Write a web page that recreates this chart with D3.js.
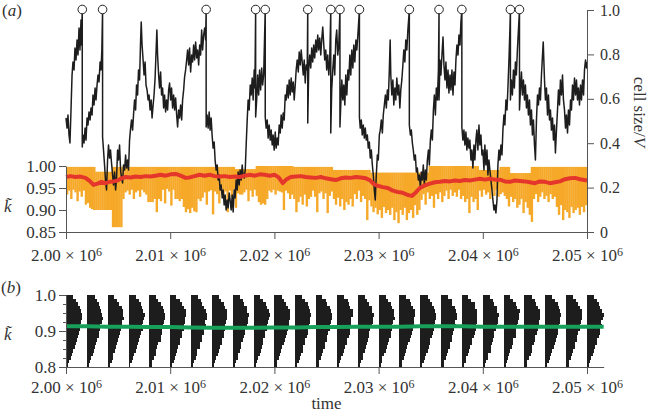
<!DOCTYPE html>
<html><head><meta charset="utf-8">
<script src="https://cdn.jsdelivr.net/npm/d3@7"></script>
<style>
body{margin:0;background:#fff}
svg text{font-family:"Liberation Serif","DejaVu Serif",serif}
</style></head><body>
<svg id="c" width="650" height="415"></svg>
<script>
// ---------- DATA (time offsets are in thousands, added to 2.00 x 10^6) ----------
const timeOrigin = 2.00e6;
const xTicks = [2.00e6, 2.01e6, 2.02e6, 2.03e6, 2.04e6, 2.05e6];
const xTickLabels = ["2.00", "2.01", "2.02", "2.03", "2.04", "2.05"];
const kTicksA = [0.85, 0.90, 0.95, 1.00];
const kTickLabelsA = ["0.85", "0.90", "0.95", "1.00"];
const sizeTicks = [0, 0.2, 0.4, 0.6, 0.8, 1.0];
const sizeTickLabels = ["0", "0.2", "0.4", "0.6", "0.8", "1.0"];
const kTicksB = [0.8, 0.9, 1.0];
const kTickLabelsB = ["0.8", "0.9", "1.0"];
const kMinorTicksB = [0.825, 0.85, 0.875, 0.925, 0.95, 0.975];

// division events (cell size reaches 1)
const divisionTimes = [1.56, 3.51, 13.45, 18.20, 19.12, 23.20, 25.41, 26.29, 28.16, 32.95, 35.80, 37.99, 42.65, 43.52];

// cell size / V  [time offset, size]
const cellSize = [
[0.00,.514],[0.10,.468],[0.19,.527],[0.29,.437],[0.38,.401],[0.48,.550],[0.58,.707],[0.67,.766],[0.77,.730],[0.86,.829],[0.96,.775],[1.06,.865],[1.15,.797],[1.25,.919],[1.34,.820],[1.44,.955],[1.49,.842],[1.56,1.0],[1.56,.383],
[1.63,.437],[1.73,.401],[1.83,.468],[1.92,.414],[2.02,.514],[2.11,.482],[2.21,.541],[2.31,.505],[2.40,.559],[2.50,.527],[2.59,.617],[2.69,.572],[2.79,.649],[2.88,.595],[2.98,.662],[3.07,.707],[3.17,.676],[3.27,.766],[3.36,.730],[3.44,.820],[3.51,1.0],[3.51,.428],
[3.60,.369],[3.70,.302],[3.79,.234],[3.89,.189],[3.99,.324],[4.08,.392],[4.18,.333],[4.27,.369],[4.37,.311],[4.47,.257],[4.56,.212],[4.66,.270],[4.76,.189],[4.85,.243],[4.95,.369],[5.04,.324],[5.14,.392],[5.24,.279],[5.33,.243],[5.43,.221],[5.52,.302],[5.62,.279],[5.72,.347],[5.81,.288],[5.91,.324],[6.00,.279],[6.10,.414],[6.20,.468],[6.29,.505],[6.39,.459],[6.48,.527],[6.58,.595],[6.68,.550],[6.77,.662],[6.87,.617],[6.96,.730],[7.06,.685],[7.16,.865],[7.22,.946],[7.30,.842],[7.40,.775],[7.49,.707],[7.59,.766],[7.68,.662],[7.78,.640],[7.88,.595],[7.97,.617],[8.07,.550],[8.17,.595],[8.26,.514],[8.36,.572],[8.45,.617],[8.55,.694],[8.65,.820],[8.72,.910],[8.79,.797],[8.89,.707],[8.98,.649],[9.08,.721],[9.17,.617],[9.27,.649],[9.37,.559],[9.46,.617],[9.56,.541],[9.65,.595],[9.75,.550],[9.85,.640],[9.94,.671],[10.04,.595],[10.13,.649],[10.23,.559],[10.33,.617],[10.42,.550],[10.52,.604],[10.62,.527],[10.71,.473],[10.81,.550],[10.90,.514],[11.00,.572],[11.10,.505],[11.19,.595],[11.29,.640],[11.38,.698],[11.48,.730],[11.58,.775],[11.67,.820],[11.77,.752],[11.86,.829],[11.96,.721],[12.06,.797],[12.15,.766],[12.25,.842],[12.34,.775],[12.44,.856],[12.54,.784],[12.63,.820],[12.73,.752],[12.83,.842],[12.92,.797],[13.02,.910],[13.11,.820],[13.21,.887],[13.31,.919],[13.40,.865],[13.45,1.0],[13.45,.473],
[13.54,.527],[13.64,.468],[13.74,.541],[13.83,.459],[13.93,.514],[14.02,.437],[14.12,.378],[14.22,.405],[14.31,.324],[14.41,.279],[14.51,.302],[14.60,.234],[14.70,.257],[14.79,.189],[14.89,.212],[14.99,.153],[15.08,.189],[15.18,.122],[15.27,.167],[15.37,.099],[15.47,.144],[15.56,.108],[15.66,.176],[15.75,.144],[15.85,.099],[15.95,.167],[16.04,.090],[16.14,.189],[16.23,.153],[16.33,.234],[16.43,.189],[16.52,.270],[16.62,.212],[16.71,.279],[16.81,.234],[16.91,.302],[17.00,.257],[17.10,.243],[17.20,.279],[17.29,.392],[17.39,.505],[17.48,.595],[17.58,.550],[17.68,.662],[17.77,.617],[17.87,.694],[17.96,.595],[18.06,.730],[18.13,.649],[18.20,1.0],[18.20,.518],
[18.30,.595],[18.39,.707],[18.49,.617],[18.58,.730],[18.68,.640],[18.78,.739],[18.87,.662],[18.97,.707],[19.12,1.0],[19.12,.518],
[19.21,.468],[19.31,.505],[19.40,.423],[19.50,.482],[19.60,.414],[19.69,.459],[19.79,.392],[19.88,.437],[19.98,.369],[20.08,.450],[20.17,.378],[20.27,.423],[20.36,.392],[20.46,.482],[20.56,.446],[20.65,.527],[20.75,.468],[20.84,.536],[20.94,.505],[21.04,.617],[21.13,.595],[21.23,.662],[21.33,.604],[21.42,.685],[21.52,.617],[21.61,.694],[21.71,.631],[21.81,.676],[21.90,.595],[22.00,.662],[22.09,.730],[22.19,.775],[22.29,.721],[22.38,.811],[22.48,.752],[22.57,.820],[22.67,.766],[22.77,.707],[22.86,.775],[22.96,.671],[23.05,.752],[23.15,.730],[23.20,1.0],[23.20,.491],[23.29,.730],[23.39,.797],[23.49,.739],[23.58,.829],[23.68,.766],[23.77,.842],[23.87,.784],[23.97,.865],[24.06,.811],[24.16,.887],[24.25,.820],[24.35,.874],[24.45,.797],[24.54,.865],[24.64,.923],[24.74,.842],[24.83,.775],[24.93,.820],[25.02,.730],[25.12,.797],[25.22,.707],[25.31,.775],[25.41,1.0],[25.41,.446],[25.50,.640],[25.60,.730],[25.70,.797],[25.79,.707],[25.89,.865],[25.98,.910],[26.08,.797],[26.18,.842],[26.29,1.0],[26.29,.473],[26.37,.572],[26.47,.685],[26.57,.595],[26.66,.662],[26.76,.572],[26.85,.707],[26.95,.617],[27.05,.730],[27.14,.685],[27.24,.797],[27.33,.707],[27.43,.820],[27.53,.739],[27.62,.842],[27.72,.766],[27.82,.865],[27.91,.820],[28.01,.887],[28.16,1.0],[28.16,.518],
[28.24,.468],[28.34,.505],[28.43,.437],[28.53,.482],[28.63,.423],[28.72,.468],[28.82,.414],[28.92,.437],[29.01,.378],[29.11,.405],[29.20,.333],[29.30,.369],[29.40,.302],[29.49,.257],[29.59,.189],[29.68,.144],[29.78,.257],[29.88,.347],[29.97,.324],[30.07,.437],[30.16,.459],[30.26,.505],[30.36,.446],[30.45,.527],[30.55,.572],[30.65,.617],[30.74,.559],[30.84,.640],[30.93,.595],[31.03,.730],[31.11,.865],[31.17,.707],[31.27,.617],[31.37,.685],[31.46,.572],[31.56,.649],[31.65,.595],[31.75,.694],[31.85,.617],[31.94,.662],[32.04,.559],[32.13,.640],[32.23,.685],[32.33,.752],[32.42,.820],[32.52,.766],[32.61,.865],[32.71,.820],[32.81,.910],[32.95,1.0],[32.95,.482],
[33.05,.437],[33.14,.459],[33.24,.401],[33.33,.369],[33.43,.324],[33.53,.347],[33.62,.270],[33.72,.288],[33.81,.234],[33.91,.257],[34.01,.198],[34.10,.270],[34.20,.234],[34.29,.302],[34.39,.212],[34.49,.279],[34.58,.234],[34.68,.324],[34.78,.369],[34.87,.302],[34.97,.414],[35.06,.459],[35.16,.414],[35.26,.550],[35.35,.617],[35.45,.527],[35.54,.649],[35.64,.595],[35.74,.730],[35.80,1.0],[35.80,.595],[35.89,.775],[35.98,.707],[36.08,.797],[36.18,.878],[36.27,.752],[36.37,.685],[36.46,.766],[36.56,.649],[36.66,.730],[36.75,.626],[36.85,.707],[36.94,.640],[37.04,.730],[37.14,.617],[37.23,.721],[37.33,.662],[37.42,.775],[37.52,.842],[37.62,.797],[37.71,.887],[37.81,.842],[37.90,.946],[37.99,1.0],[37.99,.473],
[38.09,.414],[38.19,.459],[38.28,.392],[38.38,.450],[38.47,.369],[38.57,.423],[38.67,.378],[38.76,.414],[38.86,.324],[38.95,.369],[39.05,.288],[39.15,.392],[39.24,.324],[39.34,.414],[39.43,.459],[39.53,.369],[39.63,.482],[39.72,.392],[39.82,.437],[39.92,.347],[40.01,.369],[40.11,.279],[40.20,.392],[40.30,.302],[40.40,.369],[40.49,.257],[40.59,.324],[40.68,.279],[40.78,.234],[40.88,.189],[40.97,.144],[41.07,.099],[41.16,.122],[41.26,.086],[41.36,.144],[41.45,.302],[41.55,.369],[41.64,.324],[41.74,.392],[41.84,.347],[41.93,.459],[42.03,.527],[42.12,.482],[42.22,.595],[42.32,.550],[42.41,.649],[42.51,.775],[42.60,.910],[42.65,1.0],[42.65,.595],[42.74,.685],[42.84,.617],[42.94,.730],[43.03,.649],[43.13,.766],[43.22,.707],[43.32,.820],[43.42,.910],[43.52,1.0],[43.52,.550],[43.61,.640],[43.71,.721],[43.80,.617],[43.90,.685],[44.00,.595],[44.09,.662],[44.19,.559],[44.28,.617],[44.38,.527],[44.48,.595],[44.57,.482],[44.67,.550],[44.76,.437],[44.86,.505],[44.96,.392],[45.05,.324],[45.15,.505],[45.25,.617],[45.34,.572],[45.44,.649],[45.53,.595],[45.63,.707],[45.73,.797],[45.80,.856],[45.92,.685],[46.01,.595],[46.11,.649],[46.21,.527],[46.30,.617],[46.40,.505],[46.49,.550],[46.59,.459],[46.69,.514],[46.78,.414],[46.88,.482],[46.97,.356],[47.07,.459],[47.17,.550],[47.26,.640],[47.36,.572],[47.45,.685],[47.55,.617],[47.65,.707],[47.74,.595],[47.84,.550],[47.94,.468],[48.03,.527],[48.13,.446],[48.22,.550],[48.32,.482],[48.42,.595],[48.51,.550],[48.61,.662],[48.70,.595],[48.80,.694],[48.90,.617],[48.99,.685],[49.09,.595],[49.18,.649],[49.28,.572],[49.38,.662],[49.47,.595],[49.57,.685],[49.67,.617],[49.76,.730],[49.86,.775],[49.95,.739],[50.00,.766]
];

// mean k (red) [time offset, k]
const kMeanA = [
[0.00,.975],[0.43,.977],[0.91,.975],[1.39,.976],[1.87,.973],[2.26,.966],[2.64,.957],[3.03,.960],[3.41,.964],[3.79,.961],[4.18,.964],[4.56,.965],[4.95,.967],[5.33,.972],[5.72,.975],[6.20,.974],[6.68,.976],[7.16,.975],[7.64,.977],[8.12,.976],[8.60,.978],[9.08,.980],[9.56,.978],[10.04,.981],[10.52,.982],[11.00,.978],[11.48,.973],[11.87,.974],[12.34,.977],[12.82,.980],[13.30,.978],[13.79,.980],[14.27,.977],[14.75,.976],[15.23,.977],[15.71,.975],[16.19,.976],[16.67,.975],[17.15,.978],[17.63,.980],[18.11,.978],[18.59,.981],[19.07,.980],[19.55,.978],[20.03,.980],[20.41,.974],[20.80,.961],[21.18,.970],[21.57,.975],[22.05,.976],[22.53,.977],[23.01,.975],[23.49,.974],[23.97,.973],[24.45,.975],[24.93,.972],[25.41,.970],[25.89,.968],[26.37,.972],[26.85,.974],[27.33,.973],[27.81,.975],[28.29,.974],[28.77,.972],[29.15,.968],[29.54,.959],[29.92,.955],[30.40,.952],[30.88,.950],[31.36,.944],[31.84,.941],[32.32,.939],[32.80,.934],[33.19,.932],[33.57,.940],[33.96,.950],[34.44,.956],[34.92,.960],[35.40,.963],[35.88,.964],[36.36,.966],[36.84,.965],[37.32,.967],[37.80,.966],[38.28,.968],[38.76,.967],[39.24,.969],[39.72,.971],[40.20,.969],[40.68,.971],[41.16,.969],[41.64,.969],[42.12,.965],[42.60,.964],[43.08,.967],[43.56,.966],[44.04,.965],[44.52,.963],[45.00,.961],[45.48,.965],[45.96,.964],[46.44,.961],[46.93,.963],[47.41,.965],[47.89,.970],[48.37,.972],[48.85,.973],[49.33,.970],[50.00,.967]
];

// k range of the population (orange): lower edge sampled every 0.2 thousand time units
const kSampleStep = 0.2;
const kLow = [
.935,.944,.925,.946,.940,.920,.942,.930,.944,.912,.916,.905,
.902,.900,.900,.900,.900,.900,.900,.900,.900,.900,
.861,.861,.861,.861,.861,
.925,.940,.944,.935,.946,.925,.940,.944,.930,.946,.940,.935,.918,.918,.918,.925,.895,.925,.920,
.946,.915,.948,.942,.910,.946,.925,.925,.920,.925,
.907,.895,.902,.893,.905,.897,.895,
.925,.920,.928,
.940,.912,.942,.945,.890,.942,.936,.915,.946,.935,.942,.895,.944,.930,.946,.905,.938,.935,
.935,.940,.946,.920,.944,.930,.946,.932,.918,.912,.915,.912,.925,
.944,.940,.946,.935,.944,.942,.940,.900,.944,.938,.925,.935,
.925,.895,.918,.930,.912,.935,.908,.925,.930,
.944,.930,.895,.938,.942,.925,.938,.893,.932,.942,.925,
.912,.928,.908,.925,.900,.918,.912,.925,.908,
.936,.925,.944,.918,.932,.925,.877,.922,
.908,.895,.905,.890,.900,.882,.907,.893,.900,
.889,.905,.877,.895,.870,.900,.889,.905,.877,.893,.900,.882,.911,.889,.900,.923,
.936,.912,.940,.925,.932,.905,.936,.925,.940,.918,.932,
.944,.925,.946,.932,.940,.930,.946,.925,
.932,.918,.925,.893,.930,.918,.925,.900,
.944,.930,.946,.935,.940,.925,.944,.932,.946,.930,.936,.940,.932,
.925,.908,.930,.918,.925,.905,.912,.925,.893,.918,.905,.889,.873,
.925,.936,.918,.930,.940,.925,.932,.918,.936,.925,.930,
.907,.889,.911,.877,.900,.895,.882,.907,.893,.900,.905,.889,.907,.895,.911,.877
];
// upper edge of the orange band: [from, to, k]
const kHighRuns = [[0,2.8,.998],[2.8,4.4,.987],[4.4,16.2,.998],[16.2,18.2,.993],[18.2,21.8,1.0],[21.8,25.6,.998],[25.6,29.2,.991],[29.2,34.8,.985],[34.8,39.6,1.0],[39.6,41.6,.991],[41.6,42.6,.998],[42.6,44.6,.984],[44.6,50.2,.998]];

// panel (b): histograms of k at every 2 thousand time units
const histTimes = [0,2,4,6,8,10,12,14,16,18,20,22,24,26,28,30,32,34,36,38,40,42,44,46,48,50];
const histBinTops = [1.00,.99,.98,.97,.96,.95,.94,.93,.92,.91,.90,.89,.88,.87,.86,.85,.84,.83,.82,.81];
const histBinWidth = 0.01;
const histCounts = [
[14,20,24,28,31,33,32,30,29,28,26,24,22,20,18,15,12,10,7,5],
[16,21,25,27,30,32,33,31,28,27,25,25,21,19,17,14,13,9,6,4],
[13,19,23,29,32,31,33,29,30,27,26,23,22,19,18,16,11,10,8,5],
[15,22,26,27,30,34,31,30,28,29,25,24,21,20,17,15,12,9,7,4],
[14,18,24,29,31,32,32,31,29,26,27,23,23,18,16,14,13,10,6,5],
[12,20,25,28,33,32,30,30,28,28,24,25,20,21,17,15,11,9,7,4],
[15,21,23,27,30,33,33,29,30,27,26,22,22,19,18,13,12,10,6,5],
[14,19,26,28,32,31,32,30,27,28,25,24,21,20,16,15,12,8,7,4],
[16,22,24,29,30,33,31,31,29,26,26,23,22,18,17,14,11,10,6,5],
[13,20,25,27,31,34,32,29,28,28,24,24,20,20,18,15,13,9,7,4],
[15,19,24,28,32,32,33,30,30,27,25,23,22,19,16,14,12,10,6,5],
[14,21,26,29,30,33,31,31,28,26,27,24,21,20,17,16,11,9,8,4],
[12,20,23,28,31,32,32,30,29,28,25,22,22,18,18,14,12,10,6,5],
[15,22,25,27,33,33,30,29,28,27,26,24,20,21,16,15,13,9,7,4],
[14,19,24,29,30,34,32,31,30,26,24,23,22,19,17,14,11,10,6,5],
[16,20,26,28,31,32,33,29,28,28,26,25,21,20,18,15,12,8,7,4],
[13,21,24,27,32,33,31,30,29,27,25,23,22,18,16,14,12,10,6,5],
[15,20,25,29,30,32,32,31,28,28,26,24,20,20,17,15,11,9,7,4],
[14,22,23,28,31,33,33,29,30,26,25,22,22,19,18,14,13,10,6,5],
[12,19,26,27,32,31,32,30,28,28,27,24,21,21,16,15,12,9,8,4],
[15,21,24,29,30,34,31,31,29,27,24,23,22,18,17,16,11,10,6,5],
[14,20,25,28,33,32,32,30,28,26,26,25,20,20,18,14,12,8,7,4],
[16,22,23,27,31,33,33,29,30,28,25,22,22,19,16,15,13,10,6,5],
[13,19,26,29,30,32,31,31,28,27,27,24,21,20,17,14,11,9,7,4],
[15,21,24,28,32,33,32,30,29,28,24,23,22,18,18,15,12,10,6,5],
[14,20,25,27,31,34,33,29,30,26,26,24,20,21,16,14,12,9,7,5]
];
// mean k (green) [time offset, k]
const kMeanB = [[0,.913],[2,.913],[4,.912],[6,.912],[8,.911],[10,.911],[12,.910],[14,.909],[16,.909],[18,.909],[20,.910],[22,.910],[24,.911],[26,.911],[28,.912],[30,.912],[32,.912],[34,.913],[36,.913],[38,.913],[40,.912],[42,.912],[44,.912],[46,.912],[48,.912],[50,.912],[51.6,.912]];

// ---------- DRAWING ----------
const T = d => timeOrigin + d * 1000;
const svg = d3.select("#c");
const AX = "#555", TXT = "#333";
const C_ORANGE = "#f6a828", C_RED = "#e5362c", C_BLACK = "#1d1d1d", C_GREEN = "#16a05a";

const xA = d3.scaleLinear().domain([2.00e6, 2.05e6]).range([66, 587]);
const xB = d3.scaleLinear().domain([2.00e6, 2.05e6]).range([66, 587]);
const xBEnd = 2.0516e6;
const yK = d3.scaleLinear().domain([0.85, 1.0]).range([232, 166]);
const yS = d3.scaleLinear().domain([0, 1.0]).range([232, 10]);
const yB = d3.scaleLinear().domain([0.8, 1.0]).range([367, 295]);
const wB = d3.scaleLinear().domain([0, 34]).range([0, 16.5]);

function styleAxis(g, size){
  g.attr("font-family", '"Liberation Serif", serif').attr("font-size", size || 16).attr("color", TXT);
  g.selectAll("path.domain, .tick line").attr("stroke", AX);
}
function sciLabels(g){
  g.selectAll(".tick text").each(function(d, i){
    const t = d3.select(this); t.text(null);
    t.append("tspan").text(xTickLabels[i] + " \u00d7 10");
    t.append("tspan").attr("dy", "-0.42em").attr("font-size", 12).text("6");
  });
}

// orange band
const hiAt = t => { const r = kHighRuns.find(r => t >= r[0] && t < r[1]); return r ? r[2] : 0.998; };
svg.append("g").selectAll("rect").data(kLow).join("rect")
  .attr("x", (d, i) => xA(T(i * kSampleStep)))
  .attr("width", (d, i) => Math.max(0, Math.min(xA(T((i + 1) * kSampleStep)), xA.range()[1]) - xA(T(i * kSampleStep))) + 0.3)
  .attr("y", (d, i) => yK(hiAt(i * kSampleStep)))
  .attr("height", (d, i) => yK(d) - yK(hiAt(i * kSampleStep)))
  .attr("fill", C_ORANGE);

// cell size line
svg.append("path").datum(cellSize)
  .attr("d", d3.line().x(d => xA(T(d[0]))).y(d => yS(d[1])))
  .attr("fill", "none").attr("stroke", C_BLACK).attr("stroke-width", 1.5).attr("stroke-linejoin", "round");

// mean k red
svg.append("path").datum(kMeanA)
  .attr("d", d3.line().x(d => xA(T(d[0]))).y(d => yK(d[1])))
  .attr("fill", "none").attr("stroke", C_RED).attr("stroke-width", 4).attr("stroke-linejoin", "round");

// division circles
svg.append("g").selectAll("circle").data(divisionTimes).join("circle")
  .attr("cx", d => xA(T(d))).attr("cy", yS(1.0) - 0.5).attr("r", 4.3)
  .attr("fill", "#fff").attr("stroke", "#222").attr("stroke-width", 1);

// axes panel (a)
svg.append("g").attr("transform", "translate(0,232)")
  .call(d3.axisBottom(xA).tickValues(xTicks).tickSize(7).tickSizeOuter(0).tickPadding(10))
  .call(g => styleAxis(g, 17)).call(sciLabels);
svg.append("g").attr("transform", "translate(66,0)")
  .call(d3.axisLeft(yK).tickValues(kTicksA).tickFormat((d, i) => kTickLabelsA[i]).tickSize(7).tickSizeOuter(0).tickPadding(3))
  .call(g => styleAxis(g, 17));
svg.append("g").attr("transform", "translate(587,0)")
  .call(d3.axisRight(yS).tickValues(sizeTicks).tickFormat((d, i) => sizeTickLabels[i]).tickSize(7).tickSizeOuter(0).tickPadding(6))
  .call(g => styleAxis(g, 16));

// panel (b) histograms
const hg = svg.append("g").attr("shape-rendering", "crispEdges");
histCounts.forEach((row, j) => {
  hg.append("g").selectAll("rect").data(row).join("rect")
    .attr("x", xB(T(histTimes[j])))
    .attr("y", (d, b) => yB(histBinTops[b]))
    .attr("width", d => wB(d))
    .attr("height", (d, b) => yB(histBinTops[b] - histBinWidth) - yB(histBinTops[b]))
    .attr("fill", C_BLACK);
});
svg.append("path").datum(kMeanB)
  .attr("d", d3.line().x(d => xB(T(d[0]))).y(d => yB(d[1])))
  .attr("fill", "none").attr("stroke", C_GREEN).attr("stroke-width", 4);

// axes panel (b)
const xBAxis = xB.copy().domain([2.00e6, xBEnd]).range([66, xB(xBEnd)]);
svg.append("g").attr("transform", "translate(0,367)")
  .call(d3.axisBottom(xBAxis).tickValues(xTicks).tickSize(7).tickSizeOuter(0).tickPadding(7))
  .call(g => styleAxis(g, 17)).call(sciLabels);
svg.append("g").attr("transform", "translate(66,0)")
  .call(d3.axisLeft(yB).tickValues(kTicksB).tickFormat((d, i) => kTickLabelsB[i]).tickSize(7).tickSizeOuter(0).tickPadding(3))
  .call(g => styleAxis(g, 17));
svg.append("g").attr("transform", "translate(66,0)")
  .call(d3.axisLeft(yB).tickValues(kMinorTicksB).tickFormat("").tickSize(3).tickSizeOuter(0))
  .call(styleAxis).call(g => g.select("path.domain").remove());

// labels
const txt = (x, y, s, o = {}) => {
  const t = svg.append("text").attr("x", x).attr("y", y).attr("font-size", o.size || 16).attr("fill", TXT).text(s);
  if (o.italic) t.attr("font-style", "italic");
  if (o.anchor) t.attr("text-anchor", o.anchor);
  return t;
};
function panelLabel(x, y, letter){
  const t = svg.append("text").attr("x", x).attr("y", y).attr("font-size", 17).attr("fill", TXT);
  t.append("tspan").text("(");
  t.append("tspan").attr("font-style", "italic").text(letter);
  t.append("tspan").text(")");
}
panelLabel(2, 16, "a");
panelLabel(1, 293, "b");
txt(4, 212, "k\u0303", {italic: true, size: 17});
txt(4, 340, "k\u0303", {italic: true, size: 17});
txt(xB(2.025e6), 409, "time", {anchor: "middle", size: 17});
const cl = svg.append("text").attr("transform", "translate(634,112) rotate(90)").attr("text-anchor", "middle")
  .attr("font-size", 17).attr("fill", TXT);
cl.append("tspan").text("cell size/");
cl.append("tspan").attr("font-style", "italic").text("V");
</script>
</body></html>
